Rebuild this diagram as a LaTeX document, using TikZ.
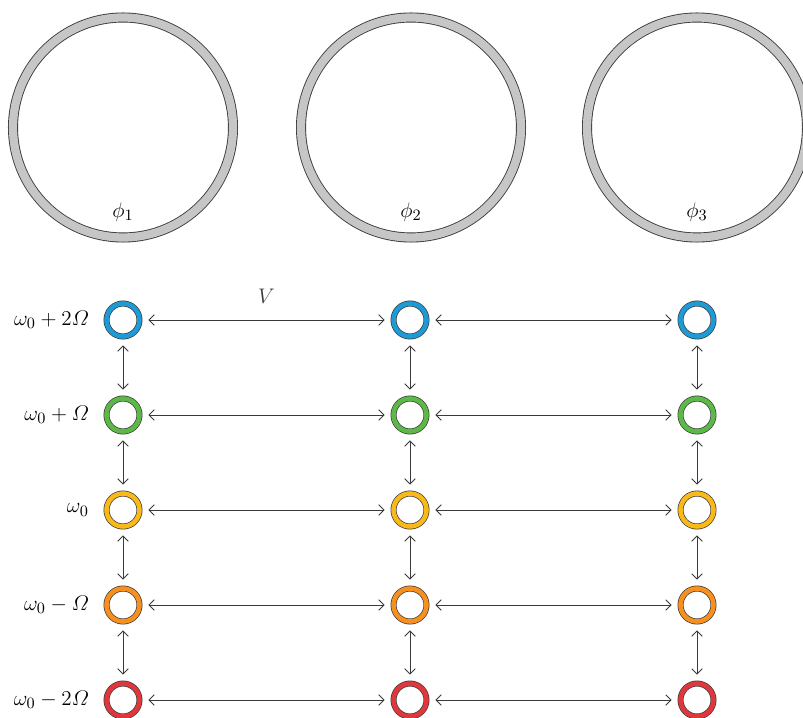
\documentclass[tikz,border=0pt]{standalone}
\usepackage{amsmath}
\usepackage{amssymb}
\usepackage{xcolor}
\usepackage{tikz}
\usetikzlibrary{positioning,arrows.meta}
\definecolor{rgblue}{HTML}{1E9AD6}
\definecolor{rggreen}{HTML}{5DB947}
\definecolor{rgyellow}{HTML}{F9B919}
\definecolor{rgorange}{HTML}{F7901E}
\definecolor{rgred}{HTML}{E2363D}
\definecolor{rgedge}{HTML}{3A3A3A}

\begin{document}
\begin{tikzpicture}[
  bigring/.style={circle, draw=rgedge, line width=0.5pt, double=gray!45, double distance=4.7pt, minimum size=4.4cm, inner sep=0pt},
  mode/.style={circle, draw=rgedge, line width=0.4pt, double=#1, double distance=2.6pt, minimum size=0.66cm, inner sep=0pt},
  flabel/.style={font=\fontsize{12.5}{14}\selectfont, inner sep=0pt, anchor=east},
  plabel/.style={font=\fontsize{12.5}{14}\selectfont, inner sep=0pt},
  link/.style={<->, >={Straight Barb[length=3pt,width=6pt]}, rgedge, line width=0.5pt, shorten <=0.17cm, shorten >=0.17cm},
]
\useasboundingbox (0,0) rectangle (16.06,-14.36);
% rings
\node[bigring] (ring1) at (2.46,-2.55)  {};
\node[bigring] (ring2) at (8.22,-2.55)  {};
\node[bigring] (ring3) at (13.94,-2.55) {};
\node[plabel, below=1.5cm of ring1.center] {$\phi_1$};
\node[plabel, below=1.5cm of ring2.center] {$\phi_2$};
\node[plabel, below=1.5cm of ring3.center] {$\phi_3$};
% frequency ladder
\node[mode=rgblue]   (a1) at (2.46,-6.40)  {};
\node[mode=rgblue]   (a2) at (8.20,-6.40)  {};
\node[mode=rgblue]   (a3) at (13.94,-6.40) {};
\node[mode=rggreen]  (b1) at (2.46,-8.30)  {};
\node[mode=rggreen]  (b2) at (8.20,-8.30)  {};
\node[mode=rggreen]  (b3) at (13.94,-8.30) {};
\node[mode=rgyellow] (c1) at (2.46,-10.20) {};
\node[mode=rgyellow] (c2) at (8.20,-10.20) {};
\node[mode=rgyellow] (c3) at (13.94,-10.20) {};
\node[mode=rgorange] (d1) at (2.46,-12.10) {};
\node[mode=rgorange] (d2) at (8.20,-12.10) {};
\node[mode=rgorange] (d3) at (13.94,-12.10) {};
\node[mode=rgred]    (e1) at (2.46,-14.00) {};
\node[mode=rgred]    (e2) at (8.20,-14.00) {};
\node[mode=rgred]    (e3) at (13.94,-14.00) {};
\node[flabel, left=0.34cm of a1] {$\omega_0+2\varOmega$};
\node[flabel, left=0.34cm of b1] {$\omega_0+\varOmega$};
\node[flabel, left=0.34cm of c1] {$\omega_0$};
\node[flabel, left=0.34cm of d1] {$\omega_0-\varOmega$};
\node[flabel, left=0.34cm of e1] {$\omega_0-2\varOmega$};
\draw[link] (a1) -- node[plabel, above=0.32cm] (vlabel) {$V$} (a2);
\draw[link] (a2) -- (a3);
\draw[link] (b1) -- (b2);
\draw[link] (b2) -- (b3);
\draw[link] (c1) -- (c2);
\draw[link] (c2) -- (c3);
\draw[link] (d1) -- (d2);
\draw[link] (d2) -- (d3);
\draw[link] (e1) -- (e2);
\draw[link] (e2) -- (e3);
\draw[link] (a1) -- (b1);
\draw[link] (b1) -- (c1);
\draw[link] (c1) -- (d1);
\draw[link] (d1) -- (e1);
\draw[link] (a2) -- (b2);
\draw[link] (b2) -- (c2);
\draw[link] (c2) -- (d2);
\draw[link] (d2) -- (e2);
\draw[link] (a3) -- (b3);
\draw[link] (b3) -- (c3);
\draw[link] (c3) -- (d3);
\draw[link] (d3) -- (e3);
\end{tikzpicture}
\end{document}
